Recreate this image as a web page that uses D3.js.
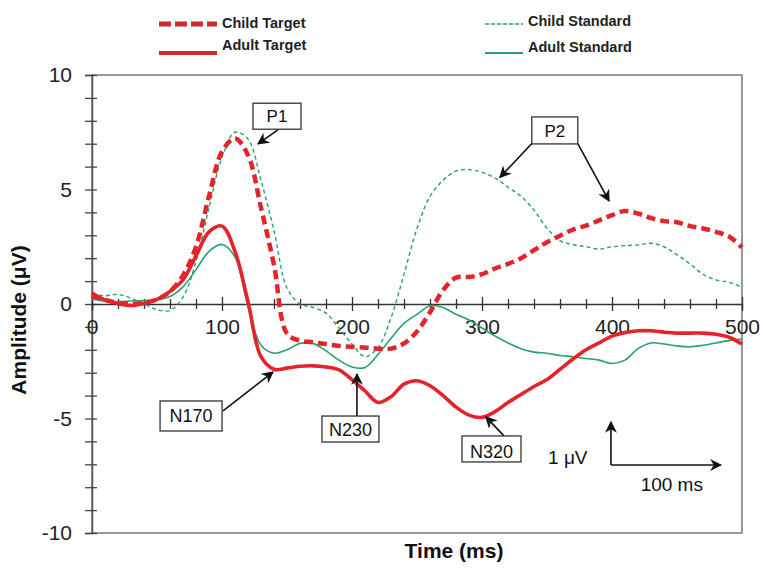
<!DOCTYPE html>
<html>
<head>
<meta charset="utf-8">
<script src="https://cdn.jsdelivr.net/npm/d3@7"></script>
<style>
  body { margin: 0; background: #fff; }
  svg { font-family: "Liberation Sans", Arial, sans-serif; }
</style>
</head>
<body>
<svg id="chart"></svg>
<script>
// sample times (ms)
var timeMs = [0, 10, 20, 30, 40, 50, 60, 70, 80, 90, 100, 110, 120, 130, 140, 150, 160, 170, 180, 190,
  200, 210, 220, 230, 240, 250, 260, 270, 280, 290, 300, 310, 320, 330, 340, 350, 360, 370, 380, 390,
  400, 410, 420, 430, 440, 450, 460, 470, 480, 490, 500];

// amplitudes (uV)
var childTarget = [0.36, 0.18, 0.05, 0.0, 0.05, 0.2, 0.55, 1.25, 2.5, 4.7, 6.65, 7.23, 6.5, 4.2, 1.7, -1.3, -1.6, -1.67, -1.75, -1.83,
  -1.87, -1.9, -1.95, -1.95, -1.72, -1.2, -0.36, 0.6, 1.15, 1.18, 1.3, 1.55, 1.75, 2.0, 2.35, 2.7, 2.98, 3.25, 3.42, 3.65,
  3.88, 4.06, 3.95, 3.75, 3.62, 3.57, 3.4, 3.3, 3.15, 2.95, 2.47];

var childStandard = [0.44, 0.36, 0.42, 0.25, 0.0, -0.25, -0.28, 0.3, 1.85, 4.2, 6.4, 7.5, 7.2, 5.4, 3.2, 0.7, 0.0, -0.15, -0.4, -1.05,
  -1.75, -2.3, -1.9, -0.6, 1.3, 3.3, 4.7, 5.4, 5.8, 5.87, 5.75, 5.5, 5.1, 4.7, 4.1, 3.3, 2.77, 2.6, 2.5, 2.4,
  2.5, 2.55, 2.58, 2.65, 2.5, 2.15, 1.75, 1.3, 1.05, 0.95, 0.73];

var adultTarget = [0.48, 0.18, 0.02, -0.07, 0.03, 0.2, 0.55, 1.05, 2.1, 3.15, 3.4, 2.3, 0.1, -2.3, -2.85, -2.8, -2.72, -2.7, -2.75, -2.88,
  -3.3, -3.8, -4.3, -4.05, -3.5, -3.35, -3.57, -4.0, -4.5, -4.85, -4.95, -4.7, -4.3, -3.95, -3.6, -3.3, -2.85, -2.4, -2.0, -1.7,
  -1.4, -1.25, -1.17, -1.17, -1.23, -1.27, -1.27, -1.27, -1.32, -1.45, -1.75];

var adultStandard = [0.22, 0.12, 0.1, 0.13, 0.15, 0.2, 0.33, 0.75, 1.5, 2.3, 2.6, 2.05, -0.1, -1.8, -2.15, -2.0, -1.72, -1.72, -2.05, -2.45,
  -2.75, -2.77, -2.2, -1.5, -0.85, -0.45, -0.08, -0.15, -0.45, -0.7, -1.05, -1.4, -1.7, -1.95, -2.1, -2.15, -2.25, -2.3, -2.38, -2.45,
  -2.6, -2.45, -1.95, -1.7, -1.75, -1.83, -1.87, -1.8, -1.7, -1.6, -1.53];

var seriesNames = ["Child Target", "Adult Target", "Child Standard", "Adult Standard"];

// annotation boxes (centre in data units) and their arrows [t1, v1, t2, v2]
var peakLabels = ["P1", "P2", "N170", "N230", "N320"];
var peakBoxAt = [[142.3, 8.2], [356, 7.58], [76.2, -4.89], [198.8, -5.46], [307.3, -6.33]];
var peakArrows = [
  [143, 7.6, 127.7, 6.99],
  [339.2, 7.06, 313.8, 5.53],
  [373.8, 6.99, 397.7, 4.5],
  [100.8, -4.67, 139.2, -2.97],
  [203.8, -4.89, 203.8, -3.06],
  [316.9, -5.76, 303, -4.93]
];

var width = 763, height = 574;
var svg = d3.select("#chart").attr("width", width).attr("height", height);

var x = d3.scaleLinear().domain([0, 500]).range([92, 742]);
var y = d3.scaleLinear().domain([-10, 10]).range([533, 75]);

var red = "#e3242b", green = "#27a269";

var defs = svg.append("defs");
defs.append("marker")
  .attr("id", "arrowBig")
  .attr("viewBox", "0 0 10 10")
  .attr("refX", 9).attr("refY", 5)
  .attr("markerWidth", 12).attr("markerHeight", 12)
  .attr("markerUnits", "userSpaceOnUse")
  .attr("orient", "auto")
  .append("path").attr("d", "M0,0L10,5L0,10L3,5Z").attr("fill", "#111");

// frame
svg.append("rect")
  .attr("x", x(0)).attr("y", y(10))
  .attr("width", x(500) - x(0)).attr("height", y(-10) - y(10))
  .attr("fill", "none").attr("stroke", "#777").attr("stroke-width", 1.5);

// y axis
var yAxis = svg.append("g")
  .attr("transform", `translate(${x(0)},0)`)
  .call(d3.axisLeft(y).tickValues(d3.range(-10, 11, 1)).tickSize(7).tickPadding(13)
    .tickFormat(d => d % 5 === 0 ? d : ""));
yAxis.select(".domain").attr("stroke", "#555").attr("stroke-width", 1.5);
yAxis.selectAll(".tick line").attr("x2", -7).attr("x1", 5).attr("stroke", "#444").attr("stroke-width", 1.3);
yAxis.selectAll(".tick text").style("font-size", "21px").attr("fill", "#222");

// x axis on the zero line
var xAxis = svg.append("g")
  .attr("transform", `translate(0,${y(0)})`)
  .call(d3.axisBottom(x).tickValues(d3.range(0, 501, 20)).tickSize(5).tickPadding(10)
    .tickFormat(d => d % 100 === 0 ? d : ""));
xAxis.select(".domain").attr("stroke", "#333").attr("stroke-width", 1.4);
xAxis.selectAll(".tick line")
  .attr("y1", d => d % 100 === 0 ? -7 : -5)
  .attr("y2", d => d % 100 === 0 ? 7 : 5)
  .attr("stroke", "#333").attr("stroke-width", 1.3);
xAxis.selectAll(".tick text").style("font-size", "21px").attr("fill", "#222");

// lines
var line = d3.line()
  .x(d => x(d[0]))
  .y(d => y(d[1]))
  .curve(d3.curveCatmullRom.alpha(0.5));

function pts(vals) { return timeMs.map((t, i) => [t, vals[i]]); }

svg.append("path").attr("d", line(pts(adultStandard)))
  .attr("fill", "none").attr("stroke", green).attr("stroke-width", 1.6);
svg.append("path").attr("d", line(pts(childStandard)))
  .attr("fill", "none").attr("stroke", green).attr("stroke-width", 1.4).attr("stroke-dasharray", "4,3");
svg.append("path").attr("d", line(pts(adultTarget)))
  .attr("fill", "none").attr("stroke", red).attr("stroke-width", 3.6);
svg.append("path").attr("d", line(pts(childTarget)))
  .attr("fill", "none").attr("stroke", red).attr("stroke-width", 4.5).attr("stroke-dasharray", "9,5");

// annotation arrows
svg.selectAll("line.ann")
  .data(peakArrows)
  .enter().append("line")
  .attr("class", "ann")
  .attr("x1", d => x(d[0])).attr("y1", d => y(d[1]))
  .attr("x2", d => x(d[2])).attr("y2", d => y(d[3]))
  .attr("stroke", "#111").attr("stroke-width", 1.6)
  .attr("marker-end", "url(#arrowBig)");

// annotation boxes
var boxW = [48, 46, 62, 57, 59], boxH = [26, 27, 30, 26, 26];
var boxes = svg.selectAll("g.peak")
  .data(peakLabels)
  .enter().append("g")
  .attr("class", "peak")
  .attr("transform", (d, i) => `translate(${x(peakBoxAt[i][0])},${y(peakBoxAt[i][1])})`);
boxes.append("rect")
  .attr("x", (d, i) => -boxW[i] / 2).attr("y", (d, i) => -boxH[i] / 2)
  .attr("width", (d, i) => boxW[i]).attr("height", (d, i) => boxH[i])
  .attr("fill", "#fff").attr("stroke", "#333").attr("stroke-width", 1.3);
boxes.append("text")
  .attr("text-anchor", "middle")
  .attr("dy", (d, i) => i === 4 ? "0.75em" : "0.36em")
  .attr("y", (d, i) => i === 4 ? -4 : 0)
  .style("font-size", (d, i) => i < 2 ? "17px" : "18px")
  .attr("fill", "#111")
  .text(d => d);

// scale bar
svg.append("line")
  .attr("x1", x(399.2)).attr("y1", y(-7.03)).attr("x2", x(399.2)).attr("y2", y(-5.15))
  .attr("stroke", "#111").attr("stroke-width", 1.6).attr("marker-end", "url(#arrowBig)");
svg.append("line")
  .attr("x1", x(399.2)).attr("y1", y(-7.03)).attr("x2", x(483.8)).attr("y2", y(-7.03))
  .attr("stroke", "#111").attr("stroke-width", 1.6).attr("marker-end", "url(#arrowBig)");
svg.append("text").attr("x", x(366)).attr("y", y(-6.68)).attr("dy", "0.36em")
  .attr("text-anchor", "middle").style("font-size", "19px").attr("fill", "#111").text("1 μV");
svg.append("text").attr("x", x(446)).attr("y", y(-7.86)).attr("dy", "0.36em")
  .attr("text-anchor", "middle").style("font-size", "19px").attr("fill", "#111").text("100 ms");

// axis titles
svg.append("text")
  .attr("transform", "translate(26,320) rotate(-90)")
  .attr("text-anchor", "middle")
  .style("font-size", "21px").style("font-weight", "bold").attr("fill", "#111")
  .text("Amplitude (μV)");
svg.append("text")
  .attr("x", 454).attr("y", 558)
  .attr("text-anchor", "middle")
  .style("font-size", "21px").style("font-weight", "bold").attr("fill", "#111")
  .text("Time (ms)");

// legend
var legendPos = [[159, 217, 24, 23], [159, 217, 53, 45], [485, 523, 24, 21], [485, 523, 53, 47]];
var legendStroke = [["#cc2a2e", 5, "12,4"], ["#d9262b", 4, null], [green, 1.5, "4,2"], [green, 2, null]];
var leg = svg.selectAll("g.legend")
  .data(seriesNames)
  .enter().append("g").attr("class", "legend");
leg.append("line")
  .attr("x1", (d, i) => legendPos[i][0]).attr("x2", (d, i) => legendPos[i][1])
  .attr("y1", (d, i) => legendPos[i][2]).attr("y2", (d, i) => legendPos[i][2])
  .attr("stroke", (d, i) => legendStroke[i][0])
  .attr("stroke-width", (d, i) => legendStroke[i][1])
  .attr("stroke-dasharray", (d, i) => legendStroke[i][2]);
leg.append("text")
  .attr("x", (d, i) => legendPos[i][1] + 5)
  .attr("y", (d, i) => legendPos[i][3])
  .attr("dy", "0.36em")
  .style("font-size", "14.5px").style("font-weight", "bold").attr("fill", "#222")
  .text(d => d);
</script>
</body>
</html>
